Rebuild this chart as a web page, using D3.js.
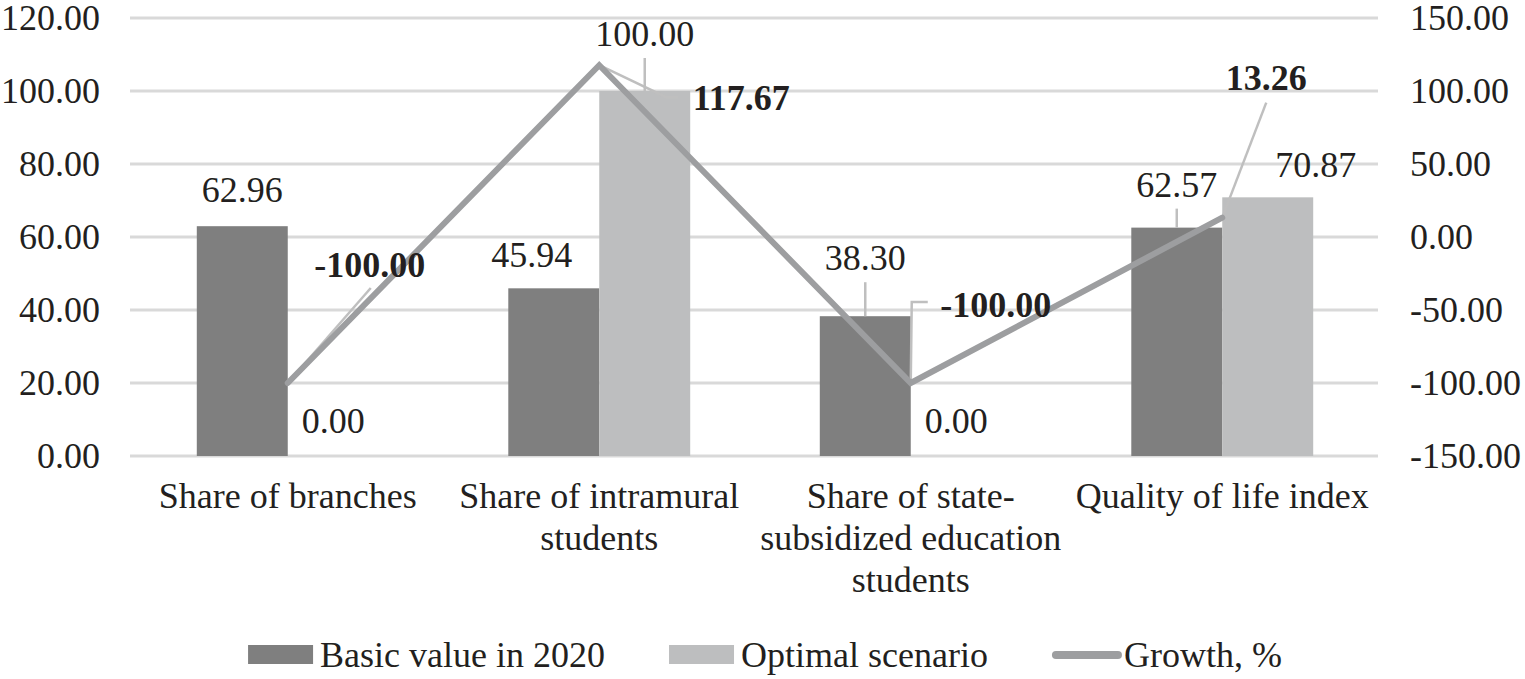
<!DOCTYPE html>
<html>
<head>
<meta charset="utf-8">
<script src="https://cdn.jsdelivr.net/npm/d3@7"></script>
<style>
  html, body { margin: 0; padding: 0; background: #fff; }
  svg { display: block; font-family: "Liberation Serif", "Times New Roman", serif; }
</style>
</head>
<body>
<svg id="chart" width="1525" height="679"></svg>
<script>
// ---------- data ----------
const categories = [
  "Share of branches",
  "Share of intramural students",
  "Share of state-subsidized education students",
  "Quality of life index"
];
const seriesNames = ["Basic value in 2020", "Optimal scenario", "Growth, %"];
const basicValues = [62.96, 45.94, 38.30, 62.57];
const optimalValues = [0.00, 100.00, 0.00, 70.87];
const growthValues = [-100.00, 117.67, -100.00, 13.26];
const leftTicks = [0, 20, 40, 60, 80, 100, 120];
const rightTicks = [-150, -100, -50, 0, 50, 100, 150];

// ---------- style / layout ----------
const plot = { left: 132, right: 1378, top: 18, bottom: 456 };
const colors = { basic: "#7f7f7f", optimal: "#bdbebf", line: "#9d9ea0", grid: "#d9d9d9", leader: "#bfbfbf", text: "#231f20" };
const fontSize = 36;
const fmt = d3.formatLocale({ decimal: ".", thousands: ",", grouping: [3], currency: ["", ""], minus: "-" }).format(".2f");
// label offsets (dx, dy of baseline) relative to bar top centre / line point
const basicLabelOff = [[0, -24], [-22, -21], [0, -46], [0, -31]];
const basicLeader = [false, false, true, true];
const optimalLabelOff = [[0, -23], [0, -45], [0, -23], [48, -20]];
const optimalLeader = [false, true, false, false];
const growthLabelOff = [[82, -106], [142, 45], [85, -66], [44, -128]];
const growthLeaderPts = [
  [[0, 0], [83, -95]],
  [[0, 0], [67, 32], [79, 32]],
  [[0, 0], [1, -81], [17, -81]],
  [[0, 0], [44, -115]]
];

const svg = d3.select("#chart");

const x0 = d3.scaleBand().domain(categories).range([plot.left, plot.right]).padding(0);
const barW = x0.bandwidth() * 0.292;
const x1 = d3.scaleBand().domain(["basic", "optimal"]).range([-barW, barW]).padding(0);
const yL = d3.scaleLinear().domain([0, 120]).range([plot.bottom, plot.top]);
const yR = d3.scaleLinear().domain([-150, 150]).range([plot.bottom, plot.top]);
const cx = c => x0(c) + x0.bandwidth() / 2;

// gridlines
svg.append("g").selectAll("line").data(leftTicks).join("line")
  .attr("x1", plot.left - 2).attr("x2", plot.right)
  .attr("y1", d => yL(d)).attr("y2", d => yL(d))
  .attr("stroke", colors.grid).attr("stroke-width", 3);

// left axis
const axL = svg.append("g").attr("transform", `translate(100,0)`)
  .call(d3.axisLeft(yL).tickValues(leftTicks).tickFormat(fmt).tickSize(0).tickPadding(0));
axL.select(".domain").remove();
axL.selectAll("text").attr("font-size", fontSize).attr("font-family", "Liberation Serif").attr("fill", colors.text).attr("dy", "0.33em");

// right axis
const axR = svg.append("g").attr("transform", `translate(1410,0)`)
  .call(d3.axisRight(yR).tickValues(rightTicks).tickFormat(fmt).tickSize(0).tickPadding(0));
axR.select(".domain").remove();
axR.selectAll("text").attr("font-size", fontSize).attr("font-family", "Liberation Serif").attr("fill", colors.text).attr("dy", "0.33em");

// bars
const barData = categories.map((c, i) => [
  { c, i, key: "basic", v: basicValues[i] },
  { c, i, key: "optimal", v: optimalValues[i] }
]).flat();
svg.append("g").selectAll("rect").data(barData).join("rect")
  .attr("x", d => cx(d.c) + x1(d.key))
  .attr("width", x1.bandwidth())
  .attr("y", d => yL(d.v))
  .attr("height", d => yL(0) - yL(d.v))
  .attr("fill", d => colors[d.key]);

// bar leaders + labels
const labG = svg.append("g").attr("font-size", fontSize).attr("fill", colors.text).attr("text-anchor", "middle");
barData.forEach(d => {
  const off = d.key === "basic" ? basicLabelOff[d.i] : optimalLabelOff[d.i];
  const lead = d.key === "basic" ? basicLeader[d.i] : optimalLeader[d.i];
  const bx = cx(d.c) + x1(d.key) + x1.bandwidth() / 2;
  const by = yL(d.v);
  if (lead) {
    svg.append("line").attr("x1", bx).attr("x2", bx)
      .attr("y1", by + off[1] + 12).attr("y2", by)
      .attr("stroke", colors.leader).attr("stroke-width", 2.5);
  }
  labG.append("text").attr("x", bx + off[0]).attr("y", by + off[1]).text(fmt(d.v));
});

// growth line
const lineGen = d3.line().x((d, i) => cx(categories[i])).y(d => yR(d));
categories.forEach((c, i) => {
  const px = cx(c), py = yR(growthValues[i]);
  svg.append("path")
    .attr("d", d3.line()(growthLeaderPts[i].map(p => [px + p[0], py + p[1]])))
    .attr("fill", "none").attr("stroke", colors.leader).attr("stroke-width", 2.5);
});
svg.append("path").datum(growthValues)
  .attr("d", lineGen)
  .attr("fill", "none").attr("stroke", colors.line).attr("stroke-width", 6)
  .attr("stroke-linejoin", "miter").attr("stroke-linecap", "round");

const gLab = svg.append("g").attr("font-size", fontSize).attr("font-weight", "bold").attr("fill", colors.text).attr("text-anchor", "middle");
categories.forEach((c, i) => {
  gLab.append("text").attr("x", cx(c) + growthLabelOff[i][0]).attr("y", yR(growthValues[i]) + growthLabelOff[i][1])
    .text(fmt(growthValues[i]));
});

// category labels (wrapped)
const catG = svg.append("g").attr("font-size", fontSize).attr("fill", colors.text).attr("text-anchor", "middle");
categories.forEach(c => {
  const tokens = c.replace(/-/g, "- ").split(" ").filter(t => t.length);
  const t = catG.append("text").attr("x", cx(c)).attr("y", 508);
  const lines = [];
  let cur = "";
  tokens.forEach(tok => {
    const cand = cur === "" ? tok : (cur.endsWith("-") ? cur + tok : cur + " " + tok);
    t.text(cand);
    if (cur !== "" && t.node().getComputedTextLength() > x0.bandwidth()) {
      lines.push(cur); cur = tok;
    } else cur = cand;
  });
  if (cur) lines.push(cur);
  t.text(null);
  lines.forEach((ln, k) => t.append("tspan").attr("x", cx(c)).attr("y", 508 + k * 42).text(ln));
});

// legend
const leg = svg.append("g").attr("font-size", fontSize).attr("fill", colors.text);
const legItems = [
  { name: seriesNames[0], type: "rect", color: colors.basic },
  { name: seriesNames[1], type: "rect", color: colors.optimal },
  { name: seriesNames[2], type: "line", color: colors.line }
];
let lx = 0;
legItems.forEach(it => {
  const g = leg.append("g").attr("transform", `translate(${lx},0)`);
  if (it.type === "rect") {
    g.append("rect").attr("x", 0).attr("y", 645).attr("width", 65).attr("height", 19).attr("fill", it.color);
  } else {
    g.append("line").attr("x1", 4).attr("x2", 66).attr("y1", 655).attr("y2", 655)
      .attr("stroke", it.color).attr("stroke-width", 8).attr("stroke-linecap", "round");
  }
  const tx = g.append("text").attr("x", 72).attr("y", 667).text(it.name);
  const w = 72 + tx.node().getComputedTextLength();
  lx += w + 64;
});
const legW = lx - 64;
leg.attr("transform", `translate(${765 - legW / 2},0)`);
</script>
</body>
</html>
